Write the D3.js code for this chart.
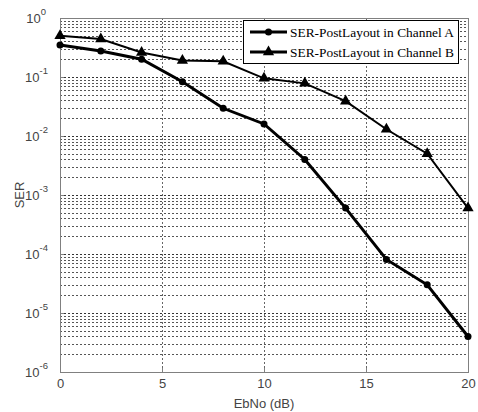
<!DOCTYPE html>
<html>
<head>
<meta charset="utf-8">
<script src="https://cdn.jsdelivr.net/npm/d3@7"></script>
<style>
  body { margin: 0; background: #fff; }
  svg text { font-family: Arial, "Liberation Sans", sans-serif; }
</style>
</head>
<body>
<svg id="chart" width="478" height="412"></svg>
<script>
// data
const ebno = [0, 2, 4, 6, 8, 10, 12, 14, 16, 18, 20]
const serA = [0.35, 0.275, 0.20, 0.083, 0.0295, 0.016, 0.004, 0.0006, 0.000081, 0.00003, 0.000004]
const serB = [0.50, 0.44, 0.26, 0.19, 0.185, 0.095, 0.078, 0.039, 0.013, 0.005, 0.0006]
const xTicks = [0, 5, 10, 15, 20]
const yExps = [0, -1, -2, -3, -4, -5, -6]
const seriesNames = ['SER-PostLayout in Channel A', 'SER-PostLayout in Channel B']

const plotLeft = 60, plotRight = 468, plotTop = 18, plotBottom = 372

const svg = d3.select('#chart')

const x = d3.scaleLinear().domain([0, 20]).range([plotLeft, plotRight])
const y = d3.scaleLog().domain([1e-6, 1]).range([plotBottom, plotTop])

/**
 * @Grid
 */
const minor = []
yExps.slice(0, -1).forEach(e => {
  for (let k = 2; k <= 9; k++) minor.push(k * Math.pow(10, e - 1))
})
const grid = svg.append('g')
grid.selectAll('.minor')
  .data(minor)
  .enter()
  .append('line')
  .attr('x1', plotLeft).attr('x2', plotRight)
  .attr('y1', d => Math.round(y(d)) + 0.5).attr('y2', d => Math.round(y(d)) + 0.5)
  .attr('stroke', '#555')
  .attr('stroke-width', 1)
  .attr('stroke-dasharray', '2,2')

grid.selectAll('.major')
  .data(yExps.slice(1, -1))
  .enter()
  .append('line')
  .attr('x1', plotLeft).attr('x2', plotRight)
  .attr('y1', d => Math.round(y(Math.pow(10, d))) + 0.5).attr('y2', d => Math.round(y(Math.pow(10, d))) + 0.5)
  .attr('stroke', '#333')
  .attr('stroke-width', 1)
  .attr('stroke-dasharray', '2,2')

grid.selectAll('.vert')
  .data(xTicks.slice(1, -1))
  .enter()
  .append('line')
  .attr('x1', d => Math.round(x(d)) + 0.5).attr('x2', d => Math.round(x(d)) + 0.5)
  .attr('y1', plotTop).attr('y2', plotBottom)
  .attr('stroke', '#666')
  .attr('stroke-width', 1)
  .attr('stroke-dasharray', '2,2')

/**
 * @Axes
 */
const xAxis = svg.append('g')
  .attr('transform', `translate(0,${plotBottom})`)
  .call(d3.axisBottom(x).tickValues(xTicks).tickSize(-4).tickSizeOuter(0).tickPadding(8))
const yAxis = svg.append('g')
  .attr('transform', `translate(${plotLeft},0)`)
  .call(d3.axisLeft(y).tickValues(yExps.map(e => Math.pow(10, e))).tickSize(-4).tickSizeOuter(0).tickFormat(() => ''))

;[xAxis, yAxis].forEach(a => {
  a.select('.domain').attr('stroke', '#808080')
  a.selectAll('.tick line').attr('stroke', '#808080')
  a.selectAll('text').attr('fill', '#444').style('font-size', '13px')
})
xAxis.selectAll('text').attr('dy', '0.6em')

// box top and right
svg.append('rect')
  .attr('x', plotLeft + 0.5).attr('y', plotTop + 0.5)
  .attr('width', plotRight - plotLeft).attr('height', plotBottom - plotTop)
  .attr('fill', 'none')
  .attr('stroke', '#808080')

// log tick labels 10^n
const yLab = svg.append('g')
yExps.forEach(e => {
  const t = yLab.append('text')
    .attr('x', e === 0 ? plotLeft - 14 : plotLeft - 12)
    .attr('y', y(Math.pow(10, e)) + 5)
    .attr('text-anchor', 'end')
    .attr('fill', '#444')
    .style('font-size', '13px')
  t.append('tspan').text('10')
  t.append('tspan').attr('dy', -8).style('font-size', '9.5px').text(e)
})

svg.append('text')
  .attr('x', (plotLeft + plotRight) / 2)
  .attr('y', 408)
  .attr('text-anchor', 'middle')
  .attr('fill', '#444')
  .style('font-size', '13px')
  .text('EbNo (dB)')

svg.append('text')
  .attr('transform', `translate(24,${(plotTop + plotBottom) / 2}) rotate(-90)`)
  .attr('text-anchor', 'middle')
  .attr('fill', '#444')
  .style('font-size', '13px')
  .text('SER')

/**
 * @Lines
 */
const line = d3.line().x((d, i) => x(ebno[i])).y(d => y(d))

svg.append('path')
  .datum(serB)
  .attr('d', line)
  .attr('fill', 'none')
  .attr('stroke', '#000')
  .attr('stroke-width', 2)

svg.append('path')
  .datum(serA)
  .attr('d', line)
  .attr('fill', 'none')
  .attr('stroke', '#000')
  .attr('stroke-width', 3)

const tri = d3.symbol().type(d3.symbolTriangle).size(55)

svg.append('g')
  .selectAll('path')
  .data(serB)
  .enter()
  .append('path')
  .attr('d', tri)
  .attr('transform', (d, i) => `translate(${x(ebno[i])},${y(d)})`)
  .attr('fill', '#000')

svg.append('g')
  .selectAll('circle')
  .data(serA)
  .enter()
  .append('circle')
  .attr('cx', (d, i) => x(ebno[i]))
  .attr('cy', d => y(d))
  .attr('r', 3.5)
  .attr('fill', '#000')

/**
 * @Legend
 */
const legend = svg.append('g')
legend.append('rect')
  .attr('x', 243.5).attr('y', 20.5)
  .attr('width', 215).attr('height', 43)
  .attr('fill', '#fff')
  .attr('stroke', '#000')

seriesNames.forEach((name, i) => {
  const ly = 32 + i * 20
  legend.append('line')
    .attr('x1', 250).attr('x2', 287)
    .attr('y1', ly).attr('y2', ly)
    .attr('stroke', '#000')
    .attr('stroke-width', 3)
  if (i === 0) {
    legend.append('circle').attr('cx', 268.5).attr('cy', ly).attr('r', 3.5).attr('fill', '#000')
  } else {
    legend.append('path').attr('d', tri).attr('transform', `translate(268.5,${ly})`).attr('fill', '#000')
  }
  legend.append('text')
    .attr('x', 290)
    .attr('y', ly + 5)
    .attr('fill', '#000')
    .style('font-family', '"Liberation Serif", "Times New Roman", serif')
    .style('font-size', '13.4px')
    .text(name)
})
</script>
</body>
</html>
